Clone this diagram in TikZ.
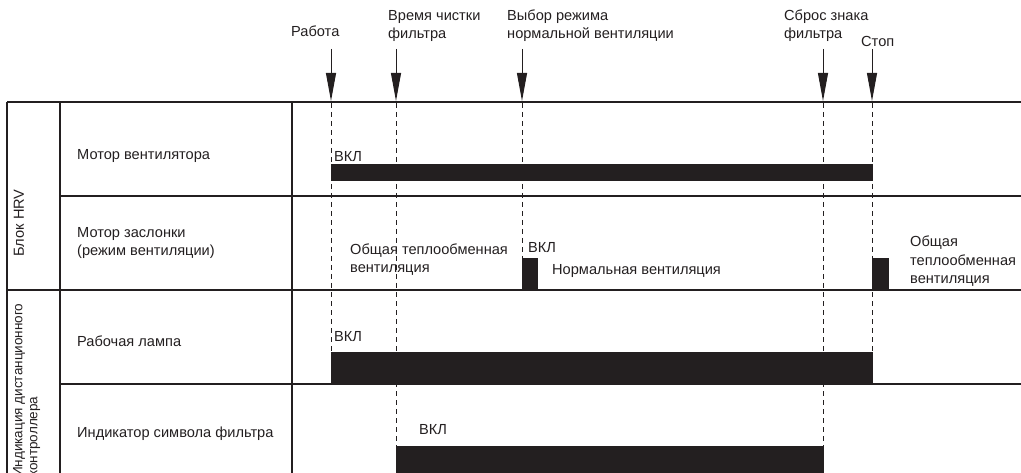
\documentclass[tikz,border=0pt]{standalone}
\usepackage{fontspec}
\setmainfont{Liberation Sans}
\usetikzlibrary{arrows.meta}
\definecolor{ink}{HTML}{231F20}
\begin{document}
\begin{tikzpicture}[x=1bp,y=-1bp,
  every node/.style={text=ink, inner sep=0pt, font=\fontsize{14.6bp}{18.5bp}\selectfont},
  gridline/.style={line width=1.1bp, draw=ink},
  heavyline/.style={line width=2bp, draw=ink},
  guide/.style={line width=0.9bp, dash pattern=on 5bp off 4bp, draw=ink},
  onbar/.style={fill=ink, draw=none},
  txt/.style={anchor=base west, align=left},
  marker/.style={line width=1bp, draw=ink, -{Triangle[length=28bp,width=10bp]}}]
\useasboundingbox (0,0) rectangle (1021,473);
\clip (0,0) rectangle (1021,473);

% event coordinates
\coordinate (sA) at (331,49);  \coordinate (tA) at (331,101);
\coordinate (sB) at (396,49);  \coordinate (tB) at (396,101);
\coordinate (sC) at (522,49);  \coordinate (tC) at (522,101);
\coordinate (sD) at (823,49);  \coordinate (tD) at (823,101);
\coordinate (sE) at (872,49);  \coordinate (tE) at (872,101);

% dashed guides
\draw[guide] (331,103) -- (331,352);
\draw[guide] (396,103) -- (396,446);
\draw[guide] (522,103) -- (522,258);
\draw[guide] (823,103) -- (823,446);
\draw[guide] (872,103) -- (872,352);

% bars
\fill[onbar] (330.5,164) rectangle (872.5,181);
\fill[onbar] (521.5,258) rectangle (538,290);
\fill[onbar] (871.5,258) rectangle (889,290);
\fill[onbar] (330.5,352) rectangle (872.5,384);
\fill[onbar] (395.5,446) rectangle (823.5,480);

% table grid
\draw[gridline] (7,102) -- (7,480);
\draw[gridline] (60,102) -- (60,480);
\draw[gridline] (292,102) -- (292,480);
\draw[gridline] (60,196) -- (1021,196);
\draw[gridline] (7,290) -- (1021,290);
\draw[gridline] (60,384) -- (1021,384);
\draw[heavyline] (7,102) -- (1021,102);

% event arrows
\draw[marker] (sA) -- (tA);
\draw[marker] (sB) -- (tB);
\draw[marker] (sC) -- (tC);
\draw[marker] (sD) -- (tD);
\draw[marker] (sE) -- (tE);

% event labels (base = last line)
\node[txt] (lA) at (291,37) {Работа};
\node[txt] (lB) at (388,39) {Время чистки\\фильтра};
\node[txt] (lC) at (507,39) {Выбор режима\\нормальной вентиляции};
\node[txt] (lD) at (784,39) {Сброс знака\\фильтра};
\node[txt] (lE) at (861,47) {Стоп};

% group labels
\node[rotate=90] (g1) at (19,223) {Блок HRV};
\node[rotate=90, anchor=north west, align=left, font=\fontsize{13.5bp}{15bp}\selectfont] (g2) at (13,477) {Индикация дистанционного\\контроллера};

% row labels
\node[txt] (r1) at (77,160) {Мотор вентилятора};
\node[txt] (r2) at (77,256) {Мотор заслонки\\(режим вентиляции)};
\node[txt] (r3) at (77,347) {Рабочая лампа};
\node[txt] (r4) at (77,437) {Индикатор символа фильтра};

% state labels
\node[txt] (s1) at (334,162) {ВКЛ};
\node[txt] (s2) at (350,273) {Общая теплообменная\\вентиляция};
\node[txt] (s3) at (528,253) {ВКЛ};
\node[txt] (s4) at (552,275) {Нормальная вентиляция};
\node[txt] (s5) at (910,284) {Общая\\теплообменная\\вентиляция};
\node[txt] (s6) at (334,342) {ВКЛ};
\node[txt] (s7) at (419,434) {ВКЛ};
\end{tikzpicture}
\end{document}
